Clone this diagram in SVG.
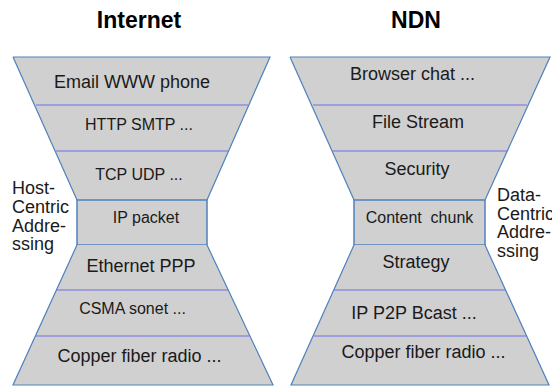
<svg xmlns="http://www.w3.org/2000/svg" width="552" height="386" viewBox="0 0 552 386">
<style>
.bg{fill:#ffffff}
.layer{fill:#d0d0d0;stroke:none}
.edge{fill:none;stroke:#4f81bd;stroke-width:1.2}
.box{fill:#d0d0d0;stroke:#4f81bd;stroke-width:1.5}
.sep{stroke:#6f6fe8;stroke-width:1.2}
text{font-family:"Liberation Sans",Arial,sans-serif;fill:#1a1a1a;text-anchor:middle}
.title{font-size:23px;font-weight:bold;fill:#000}
.l16{font-size:16px}
.l18{font-size:18px}
.side{font-size:18px;text-anchor:start}
</style>
<rect class="bg" x="0" y="0" width="552" height="386"/>
<text class="title" x="139" y="28">Internet</text>
<text class="title" x="416" y="28">NDN</text>

<g id="internet-application">
<polygon class="layer" points="13,57 270,57 248.9,105 34.5,105"/>
<text class="l18" x="132" y="88">Email WWW phone</text>
</g>
<g id="internet-http">
<polygon class="layer" points="34.5,105 248.9,105 228.6,151 55.1,151"/>
<text class="l16" x="139" y="130">HTTP SMTP ...</text>
</g>
<g id="internet-transport">
<polygon class="layer" points="55.1,151 228.6,151 207,200 77,200"/>
<text class="l16" x="139" y="180">TCP UDP ...</text>
</g>
<g id="internet-ip">
<rect class="box" x="77" y="200" width="130" height="45"/>
<text class="l16" x="146" y="223">IP packet</text>
</g>
<g id="internet-link">
<polygon class="layer" points="77,245 207,245 228.2,290 56.4,290"/>
<text class="l18" x="141" y="272">Ethernet PPP</text>
</g>
<g id="internet-mac">
<polygon class="layer" points="56.4,290 228.2,290 249.9,336 35.4,336"/>
<text class="l16" x="132.5" y="314">CSMA sonet ...</text>
</g>
<g id="internet-physical">
<polygon class="layer" points="35.4,336 249.9,336 273,385 13,385"/>
<text class="l18" x="139.5" y="362">Copper fiber radio ...</text>
</g>
<g id="internet-label">
<text class="side" x="12" y="194">Host-</text>
<text class="side" x="12" y="213">Centric</text>
<text class="side" x="12" y="232">Addre-</text>
<text class="side" x="12" y="250">ssing</text>
</g>

<g id="ndn-application">
<polygon class="layer" points="290,57 550,57 528.2,105 311.5,105"/>
<text class="l18" x="412.5" y="80">Browser chat ...</text>
</g>
<g id="ndn-file">
<polygon class="layer" points="311.5,105 528.2,105 507.3,151 332.1,151"/>
<text class="l18" x="418" y="128">File Stream</text>
</g>
<g id="ndn-security">
<polygon class="layer" points="332.1,151 507.3,151 485,200 354,200"/>
<text class="l18" x="417" y="175">Security</text>
</g>
<g id="ndn-content">
<rect class="box" x="354" y="200" width="131" height="45"/>
<text class="l16" x="419.5" y="223" xml:space="preserve" style="white-space:pre">Content  chunk</text>
</g>
<g id="ndn-strategy">
<polygon class="layer" points="354,245 485,245 505.6,290 333.8,290"/>
<text class="l18" x="416" y="268">Strategy</text>
</g>
<g id="ndn-transport">
<polygon class="layer" points="333.8,290 505.6,290 526.6,336 313.1,336"/>
<text class="l18" x="414" y="319">IP P2P Bcast ...</text>
</g>
<g id="ndn-physical">
<polygon class="layer" points="313.1,336 526.6,336 549,385 291,385"/>
<text class="l18" x="423.5" y="358">Copper fiber radio ...</text>
</g>
<g id="ndn-label">
<text class="side" x="497" y="201">Data-</text>
<text class="side" x="497" y="220">Centric</text>
<text class="side" x="497" y="238">Addre-</text>
<text class="side" x="497" y="257">ssing</text>
</g>

<g id="connectors">
<polyline class="edge" points="13,57 270,57 207,200"/>
<polyline class="edge" points="77,200 13,57"/>
<polyline class="edge" points="77,245 13,385 273,385 207,245"/>
<line class="sep" x1="36" y1="105" x2="248" y2="105"/>
<line class="sep" x1="56" y1="151" x2="228" y2="151"/>
<line class="sep" x1="57" y1="290" x2="228" y2="290"/>
<line class="sep" x1="36" y1="336" x2="249" y2="336"/>
<polyline class="edge" points="290,57 550,57 485,200"/>
<polyline class="edge" points="354,200 290,57"/>
<polyline class="edge" points="354,245 291,385 549,385 485,245"/>
<line class="sep" x1="313" y1="105" x2="527" y2="105"/>
<line class="sep" x1="333" y1="151" x2="507" y2="151"/>
<line class="sep" x1="334" y1="290" x2="505" y2="290"/>
<line class="sep" x1="314" y1="336" x2="526" y2="336"/>
</g>
</svg>
